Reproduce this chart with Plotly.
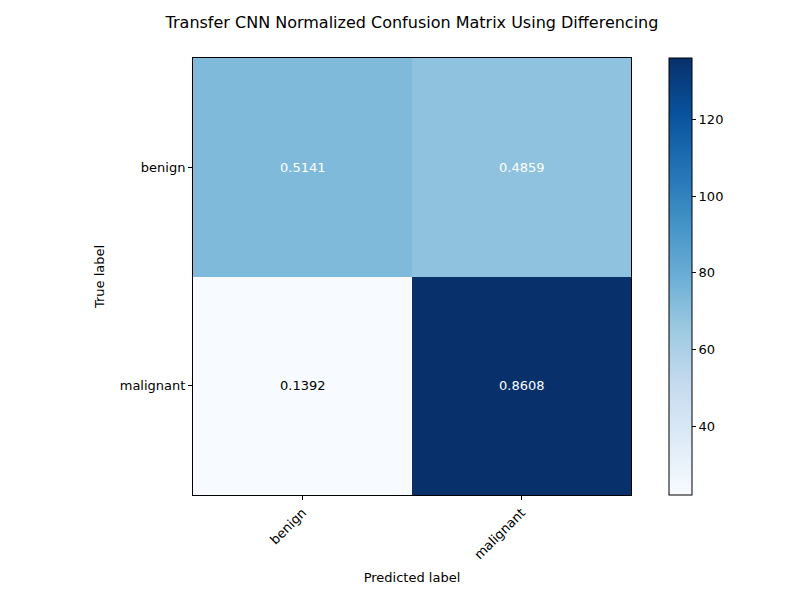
import plotly.graph_objects as go

# confusion matrix (raw counts drive the colours, normalized values are printed)
classes = ["benign", "malignant"]
counts = [[73, 69], [22, 136]]
normalized = [[0.5141, 0.4859], [0.1392, 0.8608]]
cbar_ticks = [40, 60, 80, 100, 120]

blues = [
    [0.0, "rgb(247,251,255)"], [0.125, "rgb(222,235,247)"], [0.25, "rgb(198,219,239)"],
    [0.375, "rgb(158,202,225)"], [0.5, "rgb(107,174,214)"], [0.625, "rgb(66,146,198)"],
    [0.75, "rgb(33,113,181)"], [0.875, "rgb(8,81,156)"], [1.0, "rgb(8,48,107)"],
]

font = "DejaVu Sans"
zmin = min(min(r) for r in counts)
zmax = max(max(r) for r in counts)
thresh = zmax / 2

fig = go.Figure()
fig.add_trace(go.Heatmap(
    z=counts, x=classes, y=classes,
    colorscale=blues, zmin=zmin, zmax=zmax,
    colorbar=dict(
        x=1.0868, xanchor="left", xref="paper", xpad=0, ypad=0,
        y=0.5, yanchor="middle",
        thickness=23, thicknessmode="pixels",
        len=437, lenmode="pixels",
        outlinewidth=1, outlinecolor="black",
        tickvals=cbar_ticks, ticks="outside", ticklen=4, tickcolor="black",
        tickfont=dict(family=font, size=13, color="black"),
    ),
    hoverinfo="skip",
))

# cell text
for i, row in enumerate(normalized):
    for j, v in enumerate(row):
        fig.add_annotation(
            x=classes[j], y=classes[i], text=f"{v:.4f}", showarrow=False,
            font=dict(family=font, size=13,
                      color="white" if counts[i][j] > thresh else "black"),
        )

# page body adds 8px, so the margins are pulled in by that much
fig.update_layout(
    width=800, height=600,
    paper_bgcolor="white", plot_bgcolor="white",
    margin=dict(l=185, r=177, t=50, b=113),
    title=dict(text="Transfer CNN Normalized Confusion Matrix Using Differencing",
               x=0.5, xref="paper", y=1 - 14 / 600, yanchor="middle",
               font=dict(family=font, size=16, color="black")),
    font=dict(family=font, size=13, color="black"),
    showlegend=False,
)
fig.update_xaxes(
    title=dict(text="Predicted label", standoff=11, font=dict(size=13)),
    tickangle=-45, ticks="outside", ticklen=4, tickcolor="black",
    showline=True, linecolor="black", linewidth=1, mirror=True,
    showgrid=False, zeroline=False,
)
fig.update_yaxes(
    title=dict(text="True label", standoff=12, font=dict(size=13)),
    autorange="reversed", ticks="outside", ticklen=4, tickcolor="black",
    showline=True, linecolor="black", linewidth=1, mirror=True,
    showgrid=False, zeroline=False,
)

fig.write_html("out.html")
